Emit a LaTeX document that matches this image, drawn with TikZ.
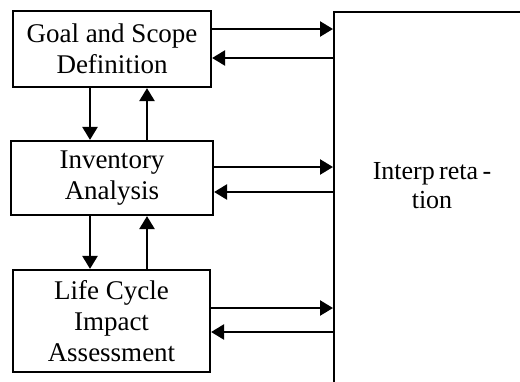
\documentclass[tikz,border=0pt]{standalone}
\usepackage{fontspec}
\setmainfont{Liberation Serif}
\usetikzlibrary{arrows.meta}
\begin{document}
\begin{tikzpicture}[x=1pt,y=-1pt,
 box/.style={draw,line width=2.2pt,inner sep=0pt,align=center,font=\fontsize{27}{31}\selectfont},
 arr/.style={line width=2.5pt,-{Triangle[length=13pt,width=15pt]}}]
\useasboundingbox (0,0) rectangle (520,381);
\clip (0,0) rectangle (520,381);
\node[box,minimum width=198pt,minimum height=76pt] (goal) at (112,49) {Goal and Scope\\Definition};
\node[box,minimum width=202pt,minimum height=74pt] (inv) at (112,178) {Inventory\\Analysis};
\node[box,minimum width=197pt,minimum height=102pt] (lcia) at (111.5,321) {Life Cycle\\Impact\\Assessment};
\node[box,minimum width=200pt,minimum height=380pt,anchor=north west] (interp) at (333,11) {};
\node[font=\fontsize{26}{29}\selectfont,align=center,inner sep=0pt] (interptext) at (432,186) {Interp\,reta\,-\\tion};
\draw[arr] (goal.east |- 0,29) -- (interp.west |- 0,29);
\draw[arr] (interp.west |- 0,58) -- (goal.east |- 0,58);
\draw[arr] (inv.east |- 0,167) -- (interp.west |- 0,167);
\draw[arr] (interp.west |- 0,192) -- (inv.east |- 0,192);
\draw[arr] (lcia.east |- 0,308) -- (interp.west |- 0,308);
\draw[arr] (interp.west |- 0,332) -- (lcia.east |- 0,332);
\draw[arr] (goal.south -| 90,0) -- (inv.north -| 90,0);
\draw[arr] (inv.north -| 147,0) -- (goal.south -| 147,0);
\draw[arr] (inv.south -| 90,0) -- (lcia.north -| 90,0);
\draw[arr] (lcia.north -| 147,0) -- (inv.south -| 147,0);
\end{tikzpicture}
\end{document}
